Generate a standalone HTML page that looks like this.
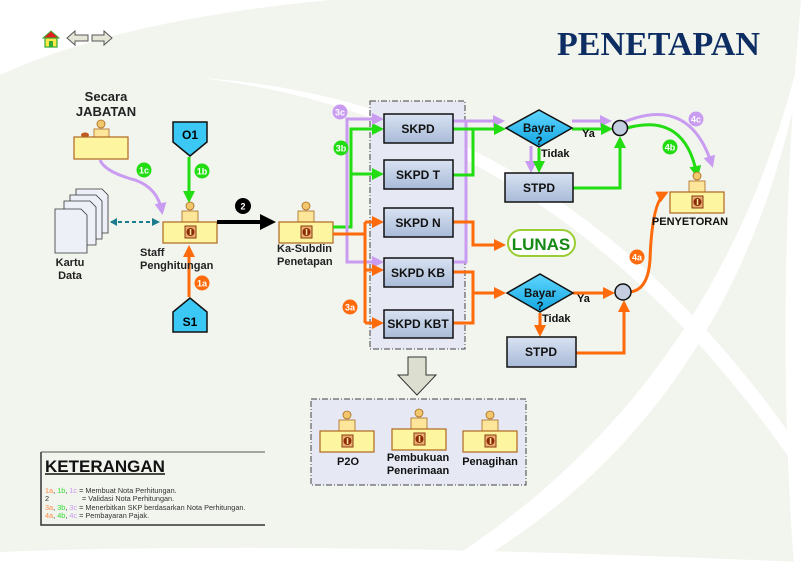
<!DOCTYPE html>
<html><head><meta charset="utf-8"><style>
html,body{margin:0;padding:0;background:#f2f4ee;}
svg{display:block;font-family:"Liberation Sans",sans-serif;}
</style></head><body>
<svg width="801" height="566" viewBox="0 0 801 566" xmlns="http://www.w3.org/2000/svg">
<defs>
<marker id="mg" markerWidth="4" markerHeight="4" refX="3" refY="2" orient="auto" markerUnits="strokeWidth"><path d="M0,0 L4,2 L0,4z" fill="#22dd11"/></marker>
<marker id="mo" markerWidth="4" markerHeight="4" refX="3" refY="2" orient="auto" markerUnits="strokeWidth"><path d="M0,0 L4,2 L0,4z" fill="#ff6a0a"/></marker>
<marker id="mp" markerWidth="4" markerHeight="4" refX="3" refY="2" orient="auto" markerUnits="strokeWidth"><path d="M0,0 L4,2 L0,4z" fill="#c99cf2"/></marker>
<marker id="mk" markerWidth="4" markerHeight="4" refX="3" refY="2" orient="auto" markerUnits="strokeWidth"><path d="M0,0 L4,2 L0,4z" fill="#000"/></marker>
<marker id="mt" markerWidth="4" markerHeight="4" refX="3" refY="2" orient="auto" markerUnits="strokeWidth"><path d="M0,0 L4,2 L0,4z" fill="#1a7c8c"/></marker>
<linearGradient id="bx" x1="0" y1="0" x2="0" y2="1"><stop offset="0" stop-color="#d8e2f2"/><stop offset="1" stop-color="#a9bbd8"/></linearGradient>
<linearGradient id="dm" x1="0" y1="0" x2="0" y2="1"><stop offset="0" stop-color="#5fd6ff"/><stop offset="1" stop-color="#13a6e0"/></linearGradient>
<g id="desk">
<circle cx="27" cy="-16" r="4" fill="#f2c66c" stroke="#a86a1c" stroke-width="0.8"/>
<rect x="19" y="-11" width="16" height="11" fill="#fde69a" stroke="#a86a1c" stroke-width="0.8"/>
<rect x="0" y="0" width="54" height="21" fill="#fdf5a0" stroke="#b0671e" stroke-width="1.2"/>
<rect x="22" y="4" width="11" height="12" fill="#e8b070" stroke="#8b3a10" stroke-width="1"/>
<circle cx="27.5" cy="10" r="4" fill="#8b2a08"/><rect x="26.8" y="7" width="1.5" height="6" fill="#fde69a"/>
</g>
</defs>
<rect width="801" height="566" fill="#f2f4ee"/>
<path d="M0,0 H330 Q120,20 0,75z" fill="#fff"/>
<path d="M200,78 Q560,100 801,450 L801,475 Q560,120 200,78z" fill="#fff"/>
<path d="M440,566 Q720,390 801,50 L801,72 Q735,410 470,566z" fill="#fff"/>
<path d="M0,552 Q300,540 801,562 V566 H0z" fill="#fff"/>
<path d="M801,0 Q774,300 794,566 H801z" fill="#fff"/>

<polygon points="43,38 51,31 59,38" fill="#e02020" stroke="#4a3" stroke-width="1"/>
<rect x="45" y="38" width="12" height="9" fill="#ffe94a" stroke="#3a3" stroke-width="1.2"/>
<rect x="49" y="41" width="4" height="6" fill="#3a3"/>
<polygon points="67,38 75,31 75,35 88,35 88,41 75,41 75,45" fill="#e6e6d8" stroke="#555" stroke-width="1"/>
<polygon points="112,38 104,31 104,35 92,35 92,41 104,41 104,45" fill="#e6e6d8" stroke="#555" stroke-width="1"/>

<text x="557" y="55" font-family="Liberation Serif,serif" font-weight="bold" font-size="34" fill="#0d2d63" textLength="203" lengthAdjust="spacingAndGlyphs">PENETAPAN</text>

<text x="106" y="101" font-size="13" font-weight="bold" text-anchor="middle" fill="#222">Secara</text>
<text x="106" y="116" font-size="13" font-weight="bold" text-anchor="middle" fill="#222">JABATAN</text>
<circle cx="101" cy="124" r="4" fill="#f2c66c" stroke="#a86a1c" stroke-width="0.8"/>
<rect x="94" y="129" width="15" height="9" fill="#fde69a" stroke="#a86a1c" stroke-width="0.8"/>
<ellipse cx="85" cy="135" rx="4" ry="2.5" fill="#c05a20"/>
<rect x="74" y="137" width="54" height="22" fill="#fdf5a0" stroke="#b0671e" stroke-width="1.2"/>

<g fill="#eef0f8" stroke="#333" stroke-width="0.8">
<path d="M76,189 h26 l6,6 v38 h-32z"/><path d="M70,195 h26 l6,6 v38 h-32z"/><path d="M64,201 h26 l6,6 v38 h-32z"/><path d="M55,209 h26 l6,6 v38 h-32z"/>
</g>
<text x="70" y="266" font-size="11" font-weight="bold" text-anchor="middle" fill="#222">Kartu</text>
<text x="70" y="279" font-size="11" font-weight="bold" text-anchor="middle" fill="#222">Data</text>
<line x1="111" y1="222" x2="158" y2="222" stroke="#1a7c8c" stroke-width="2" stroke-dasharray="4,3" marker-end="url(#mt)"/>
<polygon points="117,218 110,222 117,226" fill="#1a7c8c"/>

<polygon points="173,122 207,122 207,142 190,156 173,142" fill="#3cc8f4" stroke="#111" stroke-width="1.5"/>
<text x="190" y="139" font-size="12" font-weight="bold" text-anchor="middle">O1</text>
<polygon points="173,332 207,332 207,312 190,298 173,312" fill="#3cc8f4" stroke="#111" stroke-width="1.5"/>
<text x="190" y="326" font-size="12" font-weight="bold" text-anchor="middle">S1</text>

<path d="M100,160 Q105,172 135,180 Q158,188 162,212" fill="none" stroke="#c99cf2" stroke-width="3" marker-end="url(#mp)"/>
<line x1="189" y1="157" x2="189" y2="200" stroke="#22dd11" stroke-width="3" marker-end="url(#mg)"/>
<line x1="189" y1="297" x2="189" y2="248" stroke="#ff6a0a" stroke-width="3" marker-end="url(#mo)"/>

<use href="#desk" x="163" y="222"/>
<use href="#desk" x="279" y="222"/>
<text x="140" y="256" font-size="11" font-weight="bold" fill="#222">Staff</text>
<text x="140" y="269" font-size="11" font-weight="bold" fill="#222">Penghitungan</text>
<text x="277" y="252" font-size="11" font-weight="bold" fill="#222">Ka-Subdin</text>
<text x="277" y="265" font-size="11" font-weight="bold" fill="#222">Penetapan</text>
<line x1="217" y1="222" x2="272" y2="222" stroke="#000" stroke-width="4" marker-end="url(#mk)"/>

<rect x="370" y="101" width="95" height="248" fill="#e6e9f4" stroke="#444" stroke-width="1" stroke-dasharray="6,2,1,2"/>

<path d="M333,227 H351 V129 H381" fill="none" stroke="#22dd11" stroke-width="3" marker-end="url(#mg)"/>
<path d="M351,174 H381" fill="none" stroke="#22dd11" stroke-width="3" marker-end="url(#mg)"/>
<path d="M381,119 H347 V262 H381" fill="none" stroke="#c99cf2" stroke-width="3" marker-end="url(#mp)"/>
<path d="M347,119 H381" fill="none" stroke="#c99cf2" stroke-width="3" marker-end="url(#mp)"/>
<path d="M333,234 H365" fill="none" stroke="#ff6a0a" stroke-width="3"/>
<path d="M365,222 V323" fill="none" stroke="#ff6a0a" stroke-width="3"/>
<path d="M365,222 H381" stroke="#ff6a0a" stroke-width="3" marker-end="url(#mo)"/>
<path d="M365,270 H381" stroke="#ff6a0a" stroke-width="3" marker-end="url(#mo)"/>
<path d="M365,323 H381" stroke="#ff6a0a" stroke-width="3" marker-end="url(#mo)"/>

<path d="M453,121 H466 V262 H453" fill="none" stroke="#c99cf2" stroke-width="3"/>
<path d="M466,121 H502" fill="none" stroke="#c99cf2" stroke-width="3" marker-end="url(#mp)"/>
<path d="M453,129 H503" fill="none" stroke="#22dd11" stroke-width="3" marker-end="url(#mg)"/>
<path d="M453,175 H473 V129" fill="none" stroke="#22dd11" stroke-width="3"/>
<path d="M453,222 H473 V245 H503" fill="none" stroke="#ff6a0a" stroke-width="3" marker-end="url(#mo)"/>
<path d="M453,272 H473 V323 H453" fill="none" stroke="#ff6a0a" stroke-width="3"/>
<path d="M473,293 H503" fill="none" stroke="#ff6a0a" stroke-width="3" marker-end="url(#mo)"/>

<path d="M572,121 H609" stroke="#c99cf2" stroke-width="3" marker-end="url(#mp)"/>
<path d="M572,129 H610" stroke="#22dd11" stroke-width="3" marker-end="url(#mg)"/>
<path d="M531,146 V170" stroke="#c99cf2" stroke-width="3" marker-end="url(#mp)"/>
<path d="M539,148 V170" stroke="#22dd11" stroke-width="3" marker-end="url(#mg)"/>
<path d="M573,188 H620 V139" fill="none" stroke="#22dd11" stroke-width="3" marker-end="url(#mg)"/>
<path d="M624,122 Q690,95 712,165" fill="none" stroke="#c99cf2" stroke-width="3" marker-end="url(#mp)"/>
<path d="M627,128 Q685,112 697,175" fill="none" stroke="#22dd11" stroke-width="3" marker-end="url(#mg)"/>

<path d="M573,293 H612" stroke="#ff6a0a" stroke-width="3" marker-end="url(#mo)"/>
<path d="M540,313 V334" stroke="#ff6a0a" stroke-width="3" marker-end="url(#mo)"/>
<path d="M576,353 H624 V303" fill="none" stroke="#ff6a0a" stroke-width="3" marker-end="url(#mo)"/>
<path d="M630,292 Q648,290 650,260 Q652,200 666,193" fill="none" stroke="#ff6a0a" stroke-width="3" marker-end="url(#mo)"/>

<g stroke="#111" stroke-width="1.5" fill="url(#bx)">
<rect x="384" y="114" width="69" height="29"/>
<rect x="384" y="160" width="69" height="29"/>
<rect x="384" y="208" width="69" height="29"/>
<rect x="384" y="258" width="69" height="29"/>
<rect x="384" y="310" width="69" height="28"/>
<rect x="505" y="173" width="68" height="29"/>
<rect x="507" y="337" width="69" height="30"/>
</g>
<g font-size="12" font-weight="bold" text-anchor="middle" fill="#111">
<text x="418" y="133">SKPD</text>
<text x="418" y="179">SKPD T</text>
<text x="418" y="227">SKPD N</text>
<text x="418" y="277">SKPD KB</text>
<text x="418" y="328">SKPD KBT</text>
<text x="539" y="192">STPD</text>
<text x="541" y="356">STPD</text>
</g>
<polygon points="506,128 539,110 572,128 539,147" fill="url(#dm)" stroke="#111" stroke-width="1.5"/>
<polygon points="507,293 540,274 573,293 540,312" fill="url(#dm)" stroke="#111" stroke-width="1.5"/>
<g font-size="11.5" font-weight="bold" text-anchor="middle" fill="#111">
<text x="539" y="132">Bayar</text><text x="539" y="145">?</text>
<text x="540" y="297">Bayar</text><text x="540" y="310">?</text>
</g>
<g font-size="11" font-weight="bold" fill="#111">
<text x="582" y="137">Ya</text><text x="541" y="157">Tidak</text>
<text x="577" y="302">Ya</text><text x="542" y="322">Tidak</text>
</g>
<circle cx="620" cy="128" r="7.5" fill="#c5cde0" stroke="#111" stroke-width="1.5"/>
<circle cx="623" cy="292" r="8" fill="#c5cde0" stroke="#111" stroke-width="1.5"/>

<rect x="508" y="230" width="67" height="26" rx="13" fill="#fff" stroke="#9acd32" stroke-width="2"/>
<text x="541" y="250" font-size="17" font-weight="bold" text-anchor="middle" fill="#138a13">LUNAS</text>

<use href="#desk" x="670" y="192"/>
<text x="690" y="225" font-size="11" font-weight="bold" text-anchor="middle" fill="#111">PENYETORAN</text>

<g font-size="9" font-weight="bold" text-anchor="middle" fill="#fff">
<circle cx="144" cy="170" r="7.5" fill="#22dd11"/><text x="144" y="173.5">1c</text>
<circle cx="202" cy="171" r="7.5" fill="#22dd11"/><text x="202" y="174.5">1b</text>
<circle cx="202" cy="283" r="7.5" fill="#ff6a0a"/><text x="202" y="286.5">1a</text>
<circle cx="243" cy="206" r="8" fill="#000"/><text x="243" y="209.5">2</text>
<circle cx="340" cy="112" r="7.5" fill="#c99cf2"/><text x="340" y="115.5">3c</text>
<circle cx="341" cy="148" r="7.5" fill="#22dd11"/><text x="341" y="151.5">3b</text>
<circle cx="350" cy="307" r="7.5" fill="#ff6a0a"/><text x="350" y="310.5">3a</text>
<circle cx="696" cy="119" r="7.5" fill="#c99cf2"/><text x="696" y="122.5">4c</text>
<circle cx="670" cy="147" r="7.5" fill="#22dd11"/><text x="670" y="150.5">4b</text>
<circle cx="637" cy="257" r="7.5" fill="#ff6a0a"/><text x="637" y="260.5">4a</text>
</g>

<polygon points="408,357 426,357 426,375 436,375 417,395 398,375 408,375" fill="#dcdfcf" stroke="#333" stroke-width="1"/>
<rect x="311" y="399" width="215" height="86" fill="#e6e9f4" stroke="#444" stroke-width="1" stroke-dasharray="6,2,1,2"/>
<use href="#desk" x="320" y="431"/>
<use href="#desk" x="392" y="429"/>
<use href="#desk" x="463" y="431"/>
<g font-size="11" font-weight="bold" text-anchor="middle" fill="#111">
<text x="348" y="465">P2O</text>
<text x="418" y="461">Pembukuan</text><text x="418" y="474">Penerimaan</text>
<text x="490" y="465">Penagihan</text>
</g>

<path d="M41,452 V525 H265" fill="none" stroke="#333" stroke-width="1.5"/>
<line x1="41" y1="452" x2="265" y2="452" stroke="#555" stroke-width="1"/>
<text x="45" y="472" font-size="17" font-weight="bold" fill="#111">KETERANGAN</text>
<line x1="45" y1="474" x2="165" y2="474" stroke="#111" stroke-width="1.5"/>
<g font-size="7.3" fill="#333">
<text x="45" y="493"><tspan fill="#ff8c4a">1a</tspan>, <tspan fill="#33dd33">1b</tspan>, <tspan fill="#c99cf2">1c</tspan> = Membuat Nota Perhitungan.</text>
<text x="45" y="501">2<tspan x="82">= Validasi Nota Perhitungan.</tspan></text>
<text x="45" y="510"><tspan fill="#ff8c4a">3a</tspan>, <tspan fill="#33dd33">3b</tspan>, <tspan fill="#c99cf2">3c</tspan> = Menerbitkan SKP berdasarkan Nota Perhitungan.</text>
<text x="45" y="518"><tspan fill="#ff8c4a">4a</tspan>, <tspan fill="#33dd33">4b</tspan>, <tspan fill="#c99cf2">4c</tspan> = Pembayaran Pajak.</text>
</g>
</svg>
</body></html>
